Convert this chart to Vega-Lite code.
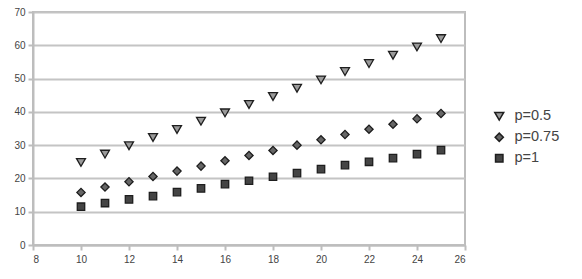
{
  "$schema": "https://vega.github.io/schema/vega-lite/v6.json",
  "width": 432,
  "height": 233,
  "autosize": {"type": "none"},
  "padding": {"left": 33, "top": 12, "right": 117, "bottom": 34},
  "background": "white",
  "config": {
    "font": "Liberation Sans",
    "view": {"stroke": "#bdbdbd", "strokeWidth": 2},
    "axis": {
      "domainColor": "#bdbdbd",
      "domainWidth": 2,
      "tickColor": "#bdbdbd",
      "tickWidth": 2,
      "labelColor": "#444444",
      "labelFont": "Liberation Sans",
      "labelFontSize": 10,
      "gridColor": "#c4c4c4",
      "gridWidth": 2,
      "title": null
    },
    "legend": {
      "orient": "none", "legendX": 459, "legendY": 97,
      "labelFontSize": 14.5, "labelColor": "#444444", "labelFont": "Liberation Sans",
      "rowPadding": 5, "labelOffset": 8
    }
  },
  "data": {
    "values": [
      {"x": 10, "y": 24.8, "s": "p=0.5"}, {"x": 11, "y": 27.3, "s": "p=0.5"},
      {"x": 12, "y": 29.8, "s": "p=0.5"}, {"x": 13, "y": 32.3, "s": "p=0.5"},
      {"x": 14, "y": 34.7, "s": "p=0.5"}, {"x": 15, "y": 37.2, "s": "p=0.5"},
      {"x": 16, "y": 39.7, "s": "p=0.5"}, {"x": 17, "y": 42.2, "s": "p=0.5"},
      {"x": 18, "y": 44.6, "s": "p=0.5"}, {"x": 19, "y": 47.1, "s": "p=0.5"},
      {"x": 20, "y": 49.6, "s": "p=0.5"}, {"x": 21, "y": 52.1, "s": "p=0.5"},
      {"x": 22, "y": 54.5, "s": "p=0.5"}, {"x": 23, "y": 57.0, "s": "p=0.5"},
      {"x": 24, "y": 59.5, "s": "p=0.5"}, {"x": 25, "y": 62.0, "s": "p=0.5"},
      {"x": 10, "y": 15.8, "s": "p=0.75"}, {"x": 11, "y": 17.4, "s": "p=0.75"},
      {"x": 12, "y": 19.0, "s": "p=0.75"}, {"x": 13, "y": 20.6, "s": "p=0.75"},
      {"x": 14, "y": 22.2, "s": "p=0.75"}, {"x": 15, "y": 23.7, "s": "p=0.75"},
      {"x": 16, "y": 25.3, "s": "p=0.75"}, {"x": 17, "y": 26.9, "s": "p=0.75"},
      {"x": 18, "y": 28.4, "s": "p=0.75"}, {"x": 19, "y": 30.0, "s": "p=0.75"},
      {"x": 20, "y": 31.6, "s": "p=0.75"}, {"x": 21, "y": 33.2, "s": "p=0.75"},
      {"x": 22, "y": 34.8, "s": "p=0.75"}, {"x": 23, "y": 36.3, "s": "p=0.75"},
      {"x": 24, "y": 37.9, "s": "p=0.75"}, {"x": 25, "y": 39.5, "s": "p=0.75"},
      {"x": 10, "y": 11.5, "s": "p=1"}, {"x": 11, "y": 12.6, "s": "p=1"},
      {"x": 12, "y": 13.7, "s": "p=1"}, {"x": 13, "y": 14.7, "s": "p=1"},
      {"x": 14, "y": 15.9, "s": "p=1"}, {"x": 15, "y": 17.0, "s": "p=1"},
      {"x": 16, "y": 18.3, "s": "p=1"}, {"x": 17, "y": 19.3, "s": "p=1"},
      {"x": 18, "y": 20.5, "s": "p=1"}, {"x": 19, "y": 21.6, "s": "p=1"},
      {"x": 20, "y": 22.8, "s": "p=1"}, {"x": 21, "y": 24.0, "s": "p=1"},
      {"x": 22, "y": 25.0, "s": "p=1"}, {"x": 23, "y": 26.1, "s": "p=1"},
      {"x": 24, "y": 27.3, "s": "p=1"}, {"x": 25, "y": 28.5, "s": "p=1"}
    ]
  },
  "mark": {"type": "point", "filled": true, "opacity": 1, "strokeWidth": 1.3, "stroke": "#1e1e1e"},
  "encoding": {
    "x": {
      "field": "x", "type": "quantitative",
      "scale": {"domain": [8, 26], "nice": false, "zero": false},
      "axis": {"values": [8, 10, 12, 14, 16, 18, 20, 22, 24, 26], "grid": false, "tickSize": 5, "labelPadding": 4}
    },
    "y": {
      "field": "y", "type": "quantitative",
      "scale": {"domain": [0, 70], "nice": false},
      "axis": {"values": [0, 10, 20, 30, 40, 50, 60, 70], "grid": true, "tickSize": 5, "labelPadding": 3}
    },
    "shape": {
      "field": "s", "type": "nominal",
      "scale": {"domain": ["p=0.5", "p=0.75", "p=1"], "range": ["triangle-down", "diamond", "square"]},
      "legend": {"title": null, "encode": {"symbols": {"update": {"stroke": {"value": "#1e1e1e"}, "strokeWidth": {"value": 1.3}}}}}
    },
    "fill": {
      "field": "s", "type": "nominal",
      "scale": {"domain": ["p=0.5", "p=0.75", "p=1"], "range": ["#9a9a9a", "#666666", "#444444"]},
      "legend": {"title": null}
    },
    "size": {
      "field": "s", "type": "nominal",
      "scale": {"domain": ["p=0.5", "p=0.75", "p=1"], "range": [80, 55, 120]},
      "legend": {"title": null}
    }
  }
}
